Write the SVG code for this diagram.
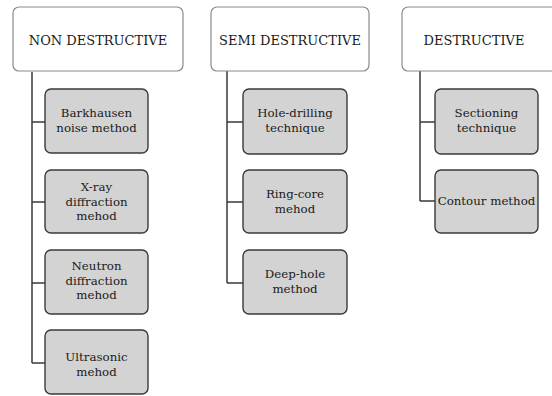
<svg xmlns="http://www.w3.org/2000/svg" width="552" height="396" viewBox="0 0 552 396">
<style>
.hdr{fill:#fff;stroke:#8a8a8a;stroke-width:1.2}
.box{fill:#d3d3d3;stroke:#3a3a3a;stroke-width:1.4}
.ln{fill:none;stroke:#3a3a3a;stroke-width:1.5}
text{font-family:"DejaVu Serif","Liberation Serif",serif;fill:#1a1a1a;text-anchor:middle}
.ht{font-size:13px}
.ct{font-size:11.8px}
</style>
<rect width="552" height="396" fill="#fff"/>
<g id="connectors">
<path class="ln" d="M32,72V363M32,122H45M32,202H45M32,283H45M32,363H45"/>
<path class="ln" d="M227,71V283M227,122H243M227,202H243M227,283H243"/>
<path class="ln" d="M420,71V201M420,122H435M420,201H435"/>
</g>
<g id="non-destructive"><rect class="hdr" x="13" y="7" width="170" height="64" rx="6"/><text class="ht" x="98" y="45">NON DESTRUCTIVE</text></g>
<g id="semi-destructive"><rect class="hdr" x="211" y="7" width="158" height="64" rx="6"/><text class="ht" x="290" y="45">SEMI DESTRUCTIVE</text></g>
<g id="destructive"><rect class="hdr" x="402" y="7" width="160" height="64" rx="6"/><text class="ht" x="474" y="45">DESTRUCTIVE</text></g>
<g id="barkhausen"><rect class="box" x="45" y="89" width="103" height="64" rx="6"/><text class="ct" x="96.5" y="117">Barkhausen</text><text class="ct" x="96.5" y="131.5">noise method</text></g>
<g id="xray"><rect class="box" x="45" y="170" width="103" height="63" rx="6"/><text class="ct" x="96.5" y="191">X-ray</text><text class="ct" x="96.5" y="205.5">diffraction</text><text class="ct" x="96.5" y="220">mehod</text></g>
<g id="neutron"><rect class="box" x="45" y="250" width="103" height="64" rx="6"/><text class="ct" x="96.5" y="270">Neutron</text><text class="ct" x="96.5" y="284.5">diffraction</text><text class="ct" x="96.5" y="299">mehod</text></g>
<g id="ultrasonic"><rect class="box" x="45" y="330" width="103" height="64" rx="6"/><text class="ct" x="96.5" y="361">Ultrasonic</text><text class="ct" x="96.5" y="375.5">mehod</text></g>
<g id="hole-drilling"><rect class="box" x="243" y="89" width="104" height="65" rx="6"/><text class="ct" x="295" y="117">Hole-drilling</text><text class="ct" x="295" y="131.5">technique</text></g>
<g id="ring-core"><rect class="box" x="243" y="170" width="104" height="63" rx="6"/><text class="ct" x="295" y="198">Ring-core</text><text class="ct" x="295" y="212.5">mehod</text></g>
<g id="deep-hole"><rect class="box" x="243" y="250" width="104" height="64" rx="6"/><text class="ct" x="295" y="278">Deep-hole</text><text class="ct" x="295" y="292.5">method</text></g>
<g id="sectioning"><rect class="box" x="435" y="89" width="103" height="65" rx="6"/><text class="ct" x="486.5" y="117">Sectioning</text><text class="ct" x="486.5" y="131.5">technique</text></g>
<g id="contour"><rect class="box" x="435" y="170" width="103" height="63" rx="6"/><text class="ct" x="486.5" y="205">Contour method</text></g>
</svg>
